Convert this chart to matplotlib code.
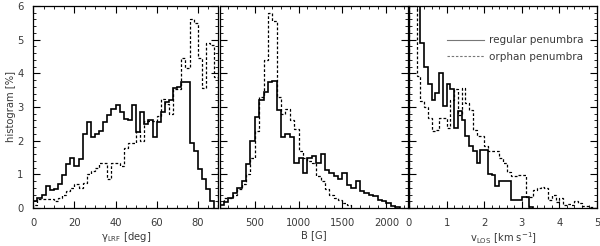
import numpy as np
import matplotlib
matplotlib.use("Agg")
import matplotlib.pyplot as plt
from matplotlib.ticker import MultipleLocator

# panel 1: inclination gamma_LRF, 2 deg bins
gamma_edges_reg = np.arange(0, 90, 2)
gamma_reg = [0.2, 0.3, 0.4, 0.65, 0.53, 0.55, 0.72, 0.98, 1.32, 1.5,
             1.25, 1.47, 2.2, 2.55, 2.1, 2.2, 2.3, 2.55, 2.75, 2.95,
             3.07, 2.85, 2.65, 2.6, 3.05, 2.25, 2.85, 2.5, 2.6, 2.1,
             2.55, 2.85, 3.15, 3.2, 3.55, 3.6, 3.75, 3.75, 1.92, 1.69,
             1.15, 0.85, 0.57, 0.2]
gamma_edges_orph = np.arange(0, 92, 2)
gamma_orph = [0.1, 0.27, 0.27, 0.27, 0.27, 0.22, 0.3, 0.4, 0.5, 0.6,
              0.7, 0.6, 0.75, 1.0, 1.1, 1.2, 1.35, 1.35, 0.85, 1.35,
              1.35, 1.24, 1.79, 1.94, 1.94, 2.3, 2.0, 2.59, 2.59, 2.59,
              2.74, 3.24, 3.09, 2.79, 3.54, 3.54, 4.45, 4.15, 5.6, 5.5,
              4.45, 3.55, 4.9, 4.85, 3.9]

# panel 2: field strength B, 50 G bins
b_edges_reg = np.arange(100, 2200, 50)
b_reg = [0.1, 0.18, 0.3, 0.45, 0.6, 0.8, 1.3, 2.0, 2.7, 3.2,
         3.45, 3.75, 3.77, 2.9, 2.1, 2.2, 2.1, 1.33, 1.5, 1.05,
         1.5, 1.55, 1.35, 1.6, 1.13, 1.05, 0.95, 0.85, 1.03, 0.69,
         0.6, 0.79, 0.5, 0.45, 0.4, 0.35, 0.25, 0.2, 0.15, 0.05,
         0.03]
b_edges_orph = np.arange(100, 1650, 50)
b_orph = [0.2, 0.3, 0.3, 0.4, 0.55, 0.7, 1.0, 1.5, 2.3, 3.3,
          4.4, 5.8, 5.55, 3.3, 2.8, 2.95, 2.6, 2.35, 1.7, 1.5,
          1.4, 1.35, 0.95, 0.8, 0.55, 0.4, 0.3, 0.25, 0.15, 0.08]

# panel 3: LOS velocity, 0.1 km/s bins
v_edges_reg = np.round(np.arange(0, 3.35, 0.1), 2)
v_reg = [9, 9, 9, 4.9, 4.2, 3.67, 3.22, 3.42, 4.0, 3.02,
         3.67, 3.52, 2.38, 2.88, 2.6, 2.13, 1.83, 1.68, 1.33, 1.73,
         1.73, 1.0, 0.99, 0.64, 0.79, 0.79, 0.79, 0.24, 0.24, 0.24,
         0.34, 0.34, 0.04]
v_edges_orph = np.round(np.arange(0, 5.05, 0.1), 2)
v_orph = [9, 9, 3.92, 3.17, 3.0, 2.68, 2.28, 2.33, 2.68, 2.68,
          2.38, 3.22, 3.52, 2.75, 3.55, 3.12, 2.9, 2.33, 2.13, 2.13,
          1.83, 1.68, 1.68, 1.68, 1.5, 1.33, 1.08, 0.94, 0.94, 0.99,
          0.99, 0.34, 0.34, 0.54, 0.59, 0.62, 0.59, 0.24, 0.4, 0.19,
          0.29, 0.09, 0.12, 0.09, 0.2, 0.15, 0.05, 0.05, 0.02, 0.0]

txt_color = "#3a3a3a"
plt.rcParams['font.family'] = ['DejaVu Sans']
plt.rcParams['font.size'] = 7.2
plt.rcParams['mathtext.default'] = 'regular'

fig = plt.figure(figsize=(6.0, 2.46), dpi=100)
bottom = 1 - 208 / 246
height = 202 / 246
ax1 = fig.add_axes([33.3 / 600, bottom, 185 / 600, height])
ax2 = fig.add_axes([220 / 600, bottom, 188.3 / 600, height])
ax3 = fig.add_axes([409 / 600, bottom, 188 / 600, height])

dash = (0, (2.2, 1.6))
ax1.stairs(gamma_reg, gamma_edges_reg, color="black", lw=1.2)
ax1.stairs(gamma_orph, gamma_edges_orph, color="black", lw=0.9, linestyle=dash)
ax2.stairs(b_reg, b_edges_reg, color="black", lw=1.2)
ax2.stairs(b_orph, b_edges_orph, color="black", lw=0.9, linestyle=dash)
ax3.stairs(v_reg, v_edges_reg, color="black", lw=1.2, label="regular penumbra")
ax3.stairs(v_orph, v_edges_orph, color="black", lw=0.9, linestyle=dash,
           label="orphan penumbra")

ax1.set_xlim(0, 90)
ax2.set_xlim(104, 2250)
ax3.set_xlim(0, 5)

ax1.xaxis.set_major_locator(MultipleLocator(20))
ax1.xaxis.set_minor_locator(MultipleLocator(5))
ax2.xaxis.set_major_locator(MultipleLocator(500))
ax2.xaxis.set_minor_locator(MultipleLocator(100))
ax3.xaxis.set_major_locator(MultipleLocator(1))
ax3.xaxis.set_minor_locator(MultipleLocator(0.2))

for ax in (ax1, ax2, ax3):
    ax.set_ylim(0, 6)
    ax.yaxis.set_major_locator(MultipleLocator(1))
    ax.yaxis.set_minor_locator(MultipleLocator(0.2))
    ax.tick_params(which="both", direction="in", top=True, right=True,
                   colors="black", labelcolor=txt_color, pad=7)
    ax.tick_params(which="major", length=5, width=0.8)
    ax.tick_params(which="minor", length=2.5, width=0.6)
    for s in ax.spines.values():
        s.set_linewidth(0.9)

ax2.tick_params(labelleft=False)
ax3.tick_params(labelleft=False)

ax1.set_ylabel("histogram [%]", color=txt_color)
ax1.yaxis.set_label_coords(-0.095, 0.5)
ax1.set_xlabel(r"$\gamma_{\rm LRF}$ [deg]", color=txt_color, labelpad=2)
ax2.set_xlabel("B [G]", color=txt_color, labelpad=2)
ax3.set_xlabel(r"v$_{\rm LOS}$ [km s$^{-1}$]", color=txt_color, labelpad=2)

leg = ax3.legend(loc="upper left", bbox_to_anchor=(0.2, 0.855), frameon=False,
                 borderpad=0, borderaxespad=0, handlelength=3.6,
                 handletextpad=0.45, labelspacing=0.65, fontsize=7.5)
for t in leg.get_texts():
    t.set_color(txt_color)
for h in leg.legend_handles:
    h.set_color("#777777")
    h.set_linewidth(0.8)

fig.savefig("out.png", dpi=100, facecolor="white")
